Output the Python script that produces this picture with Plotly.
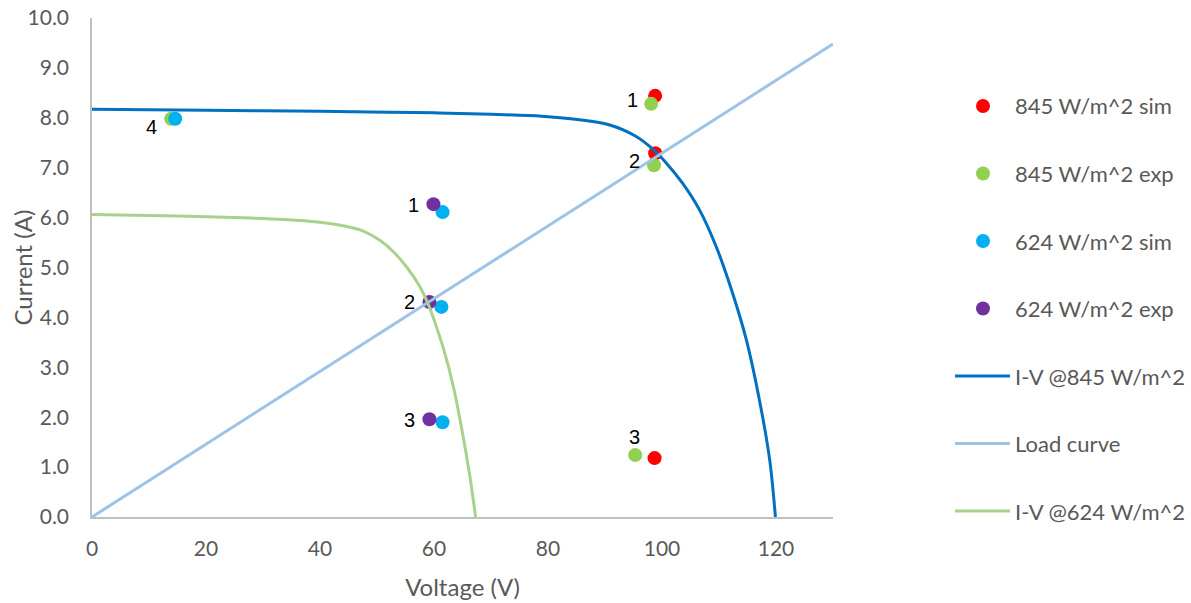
import plotly.graph_objects as go

# Measured operating points (voltage V, current A)
v_845_sim = [98.8, 98.8, 98.7]
i_845_sim = [8.44, 7.29, 1.18]

v_845_exp = [98.1, 98.6, 95.3, 13.9]
i_845_exp = [8.28, 7.05, 1.24, 7.98]
lbl_845_exp = ["1", "2", "3", "4"]

v_624_sim = [61.5, 61.3, 61.5, 14.6]
i_624_sim = [6.11, 4.21, 1.90, 7.98]

v_624_exp = [59.9, 59.2, 59.2]
i_624_exp = [6.27, 4.31, 1.96]
lbl_624_exp = ["1", "2", "3"]

# I-V characteristic at 845 W/m^2
v_iv_845 = [0, 20, 40, 60, 70, 78.9, 84.8, 90.7, 95.4, 98.3, 100.7, 103.6, 106.6,
            109.5, 112.4, 114.8, 117.1, 118.9, 119.9]
i_iv_845 = [8.17, 8.15, 8.13, 8.10, 8.07, 8.03, 7.97, 7.86, 7.63, 7.38, 7.10, 6.69,
            6.15, 5.42, 4.48, 3.55, 2.34, 1.14, 0.0]

# I-V characteristic at 624 W/m^2
v_iv_624 = [0, 15, 27.8, 33.7, 39.6, 44.3, 47.8, 50.7, 53.1, 55.4, 57.5, 59.0,
            60.4, 61.9, 63.4, 64.8, 66.3, 67.3]
i_iv_624 = [6.06, 6.03, 5.99, 5.96, 5.91, 5.83, 5.72, 5.53, 5.29, 4.98, 4.62, 4.26,
            3.82, 3.28, 2.61, 1.81, 0.81, 0.0]

# Resistive load line
v_load = [0, 130]
i_load = [0, 9.48]

# Pixel offsets of the point-number labels relative to their points
off_845 = [(-19, 4), (-20, 4), (-1, 18), (-20, -8)]
off_624 = [(-20, -1), (-20, 0), (-20, -1)]

GRAY = "#595959"
FONT = "Lato"
W, H = 1191, 603
M_L, M_R, M_T, M_B = 92, 358, 18, 86
PLOT_W = W - M_L - M_R
PLOT_H = H - M_T - M_B

fig = go.Figure()

def pts(x, y, name, color):
    fig.add_trace(go.Scatter(x=x, y=y, mode="markers", name=name, showlegend=False,
                             marker=dict(size=14, color=color)))

def curve(x, y, name, color):
    fig.add_trace(go.Scatter(x=x, y=y, mode="lines", name=name, showlegend=False,
                             line=dict(color=color, width=3, shape="spline", smoothing=0.9)))

pts(v_845_sim, i_845_sim, "845 W/m^2 sim", "#FF0000")
pts(v_845_exp, i_845_exp, "845 W/m^2 exp", "#92D050")
pts(v_624_sim, i_624_sim, "624 W/m^2 sim", "#00B0F0")
pts(v_624_exp, i_624_exp, "624 W/m^2 exp", "#7030A0")
curve(v_iv_845, i_iv_845, "I-V @845 W/m^2", "#0070C0")
curve(v_load, i_load, "Load curve", "#9DC3E6")
curve(v_iv_624, i_iv_624, "I-V @624 W/m^2", "#A9D18E")

label_font = dict(family="Liberation Sans", size=20, color="black")
annotations = []
for x, y, t, (dx, dy) in zip(v_845_exp, i_845_exp, lbl_845_exp, off_845):
    annotations.append(dict(x=x, y=y, text=t, showarrow=False, xshift=dx, yshift=dy,
                            font=label_font))
for x, y, t, (dx, dy) in zip(v_624_exp, i_624_exp, lbl_624_exp, off_624):
    annotations.append(dict(x=x, y=y, text=t, showarrow=False, xshift=dx, yshift=dy,
                            font=label_font))

def px_to_paper_x(px):
    return (px - M_L) / PLOT_W

def px_to_paper_y(py):
    return (H - M_B - py) / PLOT_H

# Vertical axis title, set close to the shorter tick labels
annotations.append(dict(xref="paper", yref="paper", x=px_to_paper_x(22), y=0.5,
                        xanchor="center", yanchor="middle", textangle=-90,
                        text="Current (A)", showarrow=False,
                        font=dict(family=FONT, size=24, color=GRAY)))

# Legend drawn beside the plot: one row per trace, evenly spaced
shapes = []
LEG_TOP, LEG_STEP = 106, 67.5
SYM_X, LINE_X0, LINE_X1, TEXT_X = 983, 955, 1010, 1013
for k, tr in enumerate(fig.data):
    yp = px_to_paper_y(LEG_TOP + k * LEG_STEP)
    if tr.mode == "markers":
        shapes.append(dict(type="circle", xref="paper", yref="paper",
                           xsizemode="pixel", ysizemode="pixel",
                           xanchor=px_to_paper_x(SYM_X), yanchor=yp,
                           x0=-7, x1=7, y0=-7, y1=7,
                           fillcolor=tr.marker.color, line=dict(width=0)))
    else:
        shapes.append(dict(type="line", xref="paper", yref="paper",
                           x0=px_to_paper_x(LINE_X0), x1=px_to_paper_x(LINE_X1),
                           y0=yp, y1=yp, line=dict(color=tr.line.color, width=3)))
    annotations.append(dict(xref="paper", yref="paper", x=px_to_paper_x(TEXT_X), y=yp,
                            xanchor="left", yanchor="middle", text=tr.name,
                            showarrow=False,
                            font=dict(family=FONT, size=22, color=GRAY)))

fig.update_layout(
    width=W, height=H,
    margin=dict(l=M_L, r=M_R, t=M_T, b=M_B, autoexpand=False),
    paper_bgcolor="white", plot_bgcolor="white",
    font=dict(family=FONT, color=GRAY, size=20),
    showlegend=False,
    annotations=annotations,
    shapes=shapes,
    xaxis=dict(range=[0, 130], dtick=20, tick0=0, showgrid=False, zeroline=False,
               showline=True, linecolor="#BFBFBF", linewidth=1.5,
               ticks="", ticklabelstandoff=12,
               tickfont=dict(family=FONT, size=21, color=GRAY),
               title=dict(text="Voltage (V)", font=dict(family=FONT, size=24, color=GRAY),
                          standoff=20)),
    yaxis=dict(range=[0, 10], dtick=1, tick0=0, tickformat=".1f", showgrid=False,
               zeroline=False, showline=True, linecolor="#BFBFBF", linewidth=1.5,
               ticks="", ticklabelstandoff=17,
               tickfont=dict(family=FONT, size=21, color=GRAY)),
)

fig.write_html("out.html")
